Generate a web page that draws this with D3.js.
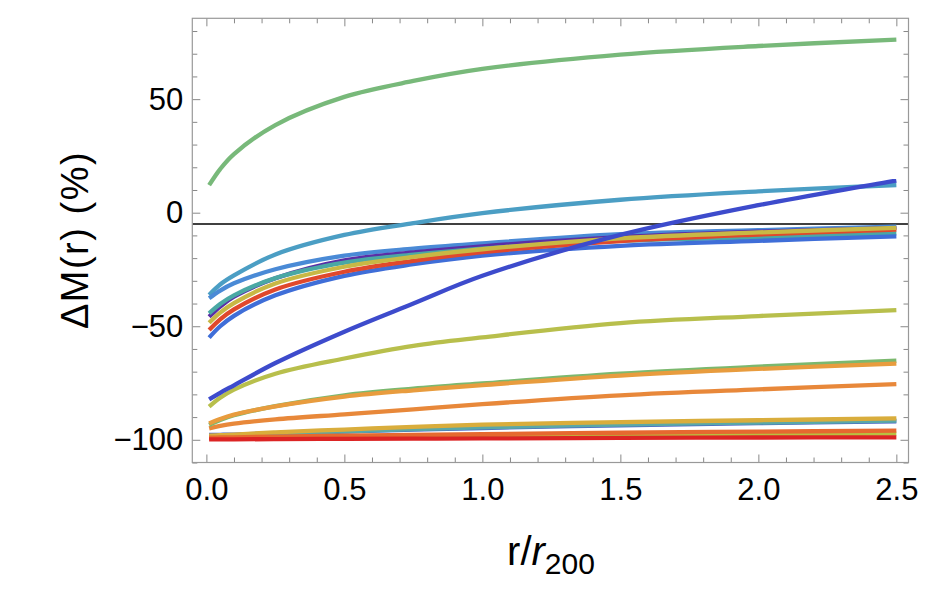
<!DOCTYPE html>
<meta charset="utf-8">
<head>
<script src="https://d3js.org/d3.v7.min.js"></script>
<style>
body { margin: 0; background: #fff; }
svg { font-family: "Liberation Sans", Arial, sans-serif; }
</style>
</head>
<body>
<div id="chart"></div>
<script>
// sample radii r/r200, shared by all curves
var xs = [0.01, 0.05, 0.1, 0.25, 0.5, 0.75, 1.0, 1.5, 2.0, 2.5];

// Delta M(r) in percent
var greenTop   = [12.1, 19.2, 25.8, 38.6, 51.0, 58.0, 63.3, 69.6, 73.4, 76.2];
var crosser    = [-36.2, -31.6, -27.6, -18.4, -9.8, -4.6, -0.2, 5.7, 9.4, 12.2];
var lightBlue  = [-37.7, -34.3, -31.1, -24.9, -18.9, -15.8, -13.5, -9.5, -7.7, -6.1];
var purple     = [-45.8, -41.3, -37.0, -28.9, -21.0, -17.5, -14.8, -10.8, -8.4, -6.8];
var teal       = [-44.3, -40.2, -36.4, -28.8, -22.0, -18.5, -15.8, -12.4, -10.9, -9.1];
var blue       = [-55.0, -50.0, -45.4, -36.4, -27.8, -22.7, -18.9, -14.6, -12.4, -10.4];
var red        = [-51.7, -47.0, -42.6, -33.8, -26.0, -21.2, -17.4, -12.5, -9.6, -7.5];
var gold       = [-48.5, -44.0, -39.8, -31.2, -23.8, -19.5, -16.1, -11.3, -8.7, -6.7];
var darkBlue   = [-82.2, -79.3, -76.0, -66.2, -52.4, -40.0, -27.8, -9.8, 3.3, 14.1];
var olive      = [-85.4, -81.5, -77.9, -70.9, -64.2, -58.6, -54.9, -48.6, -45.5, -42.9];
var blueThin   = [-97.9, -97.8, -97.7, -97.2, -96.4, -95.5, -94.8, -93.6, -92.7, -91.9];
var tealThin   = [-98.4, -98.3, -98.1, -97.4, -96.3, -95.3, -94.5, -93.3, -92.4, -91.6];
var goldOrange = [-98.2, -98.0, -97.7, -96.7, -95.5, -94.3, -93.3, -92.2, -91.4, -90.6];
var yellowGrn  = [-99.3, -99.2, -99.2, -99.0, -98.7, -98.5, -98.3, -97.9, -97.6, -97.3];
var orangeRed  = [-99.1, -99.0, -98.9, -98.6, -98.2, -97.8, -97.5, -96.9, -96.4, -96.0];
var redBottom  = [-99.8, -99.8, -99.8, -99.7, -99.6, -99.5, -99.4, -99.2, -99.0, -98.9];
var orange2    = [-95.0, -93.9, -92.9, -91.0, -88.8, -86.6, -84.3, -80.4, -77.8, -75.5];
var greenLow   = [-93.5, -91.3, -89.2, -85.2, -80.4, -77.5, -75.2, -70.9, -67.8, -65.2];
var orange1    = [-92.8, -90.8, -88.9, -85.3, -81.0, -78.2, -75.9, -71.7, -68.8, -66.5];

// draw order, bottom first
var series = [
  {v: blueThin,   c: "#4a66c8"},
  {v: tealThin,   c: "#5aa8a8"},
  {v: goldOrange, c: "#d9ad3c"},
  {v: yellowGrn,  c: "#b8c040"},
  {v: orangeRed,  c: "#e6692f"},
  {v: redBottom,  c: "#dc2424"},
  {v: orange2,    c: "#e8883a"},
  {v: greenLow,   c: "#7bb86e"},
  {v: orange1,    c: "#e89c3e"},
  {v: olive,      c: "#b8bf4c"},
  {v: greenTop,   c: "#78b97a"},
  {v: crosser,    c: "#4b9ec4"},
  {v: lightBlue,  c: "#4a8ad6"},
  {v: purple,     c: "#5a2ea6"},
  {v: teal,       c: "#4aa8a4"},
  {v: blue,       c: "#3f6ed8"},
  {v: red,        c: "#e0482c"},
  {v: gold,       c: "#c8b845"},
  {v: darkBlue,   c: "#3d4bcc"}
];

var yMajor = [-100, -50, 0, 50];
var xMajor = [0, 0.5, 1.0, 1.5, 2.0, 2.5];
var refLine = -5;

var W = 926, H = 592;
var L = 192.3, R = 908.5, T = 18.3, B = 462.5;

var svg = d3.select("#chart").append("svg")
  .attr("width", W).attr("height", H);

var x = d3.scaleLinear().domain([-0.051, 2.544]).range([L, R]);
var y = d3.scaleLinear().domain([-110, 85.6]).range([B, T]);

var xMinor = d3.range(0, 2.501, 0.1).filter(function(d) { return Math.abs(d * 2 - Math.round(d * 2)) > 1e-6; });
var yMinor = d3.range(-110, 85, 10).filter(function(d) { return d % 50 !== 0; });

// reference line
svg.append("line")
  .attr("x1", L).attr("x2", R)
  .attr("y1", y(refLine)).attr("y2", y(refLine))
  .attr("stroke", "#000").attr("stroke-width", 1.4);

var line = d3.line()
  .x(function(d, i) { return x(xs[i]); })
  .y(function(d) { return y(d); })
  .curve(d3.curveCatmullRom.alpha(0.5));

svg.append("g").selectAll("path")
  .data(series).enter().append("path")
  .attr("d", function(s) { return line(s.v); })
  .attr("fill", "none")
  .attr("stroke", function(s) { return s.c; })
  .attr("stroke-width", 4.3)
  .attr("stroke-linecap", "butt");

// frame with inward ticks
function frameAxis(axis, tx, ty, labels) {
  var g = svg.append("g").attr("transform", "translate(" + tx + "," + ty + ")").call(axis);
  g.select(".domain").remove();
  g.selectAll(".tick line").attr("stroke", "#888").attr("stroke-width", 1);
  if (!labels) g.selectAll("text").remove();
  return g;
}

var fmtY = function(d) { return d < 0 ? "\u2212" + Math.abs(d) : d; };

frameAxis(d3.axisLeft(y).tickValues(yMajor).tickSizeInner(-8).tickSizeOuter(0).tickPadding(9).tickFormat(fmtY), L, 0, true)
  .selectAll("text").attr("font-size", 31).attr("fill", "#000");
frameAxis(d3.axisLeft(y).tickValues(yMinor).tickSizeInner(-5).tickSizeOuter(0).tickFormat(""), L, 0, false);
frameAxis(d3.axisRight(y).tickValues(yMajor).tickSizeInner(-8).tickSizeOuter(0), R, 0, false);
frameAxis(d3.axisRight(y).tickValues(yMinor).tickSizeInner(-5).tickSizeOuter(0), R, 0, false);

frameAxis(d3.axisBottom(x).tickValues(xMajor).tickSizeInner(-8).tickSizeOuter(0).tickPadding(15).tickFormat(d3.format(".1f")), 0, B, true)
  .selectAll("text").attr("font-size", 31).attr("fill", "#000");
frameAxis(d3.axisBottom(x).tickValues(xMinor).tickSizeInner(-5).tickSizeOuter(0), 0, B, false);
frameAxis(d3.axisTop(x).tickValues(xMajor).tickSizeInner(-8).tickSizeOuter(0), 0, T, false);
frameAxis(d3.axisTop(x).tickValues(xMinor).tickSizeInner(-5).tickSizeOuter(0), 0, T, false);

svg.append("rect")
  .attr("x", L).attr("y", T).attr("width", R - L).attr("height", B - T)
  .attr("fill", "none").attr("stroke", "#999").attr("stroke-width", 1.2);

// axis titles
svg.append("text")
  .attr("transform", "translate(88,240) rotate(-90)")
  .attr("text-anchor", "middle")
  .attr("font-size", 38)
  .attr("letter-spacing", 1.5)
  .text("\u0394M(r) (%)");

var xt = svg.append("text")
  .attr("x", 551).attr("y", 565)
  .attr("text-anchor", "middle")
  .attr("font-size", 40);
xt.append("tspan").text("r/");
xt.append("tspan").attr("font-style", "italic").text("r");
xt.append("tspan").attr("font-size", 30).attr("dy", 9).text("200");
</script>
</body>
